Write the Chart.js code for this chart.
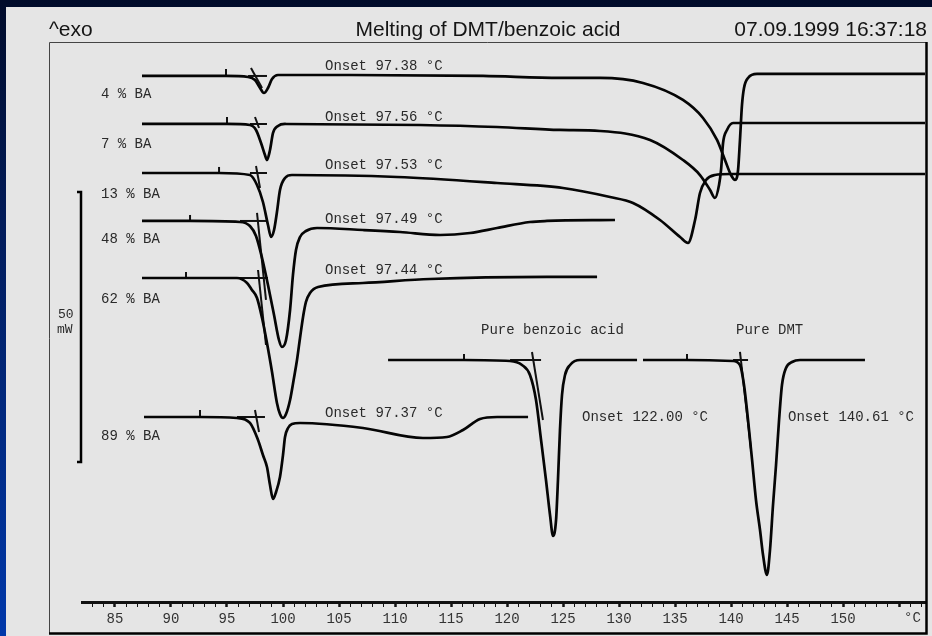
<!DOCTYPE html>
<html>
<head>
<meta charset="utf-8">
<script src="https://cdn.jsdelivr.net/npm/chart.js@4.4.0/dist/chart.umd.min.js"></script>
<style>
  html, body { margin: 0; padding: 0; background: #000c2c; }
  canvas { display: block; }
</style>
</head>
<body>
<canvas id="dsc" width="932" height="636"></canvas>
<script>
// DSC traces, [temperature °C, heat flow mW (offset per trace)]
const ba4 = [
  [87.41, 97.41], [94.91, 97.41], [96.88, 97.22], [97.50, 96.67], [97.95, 95.19], [98.30, 94.26],
  [98.66, 95.19], [99.02, 96.85], [99.55, 97.59], [105.98, 97.59], [117.86, 97.41], [124.73, 97.04],
  [128.30, 97.04], [132.14, 96.11], [135.71, 92.96], [137.50, 89.63], [138.75, 85.56], [139.46, 81.85],
  [140.00, 79.07], [140.36, 78.15], [140.63, 80.00], [140.80, 85.56], [140.98, 92.04], [141.16, 95.19],
  [141.52, 97.04], [142.32, 97.78], [157.32, 97.78]
];
const ba7 = [
  [87.41, 88.52], [95.00, 88.52], [97.05, 88.33], [97.59, 87.41], [98.04, 85.00], [98.39, 82.78],
  [98.57, 81.85], [98.84, 83.70], [99.11, 86.85], [99.55, 88.15], [100.18, 88.52], [112.23, 88.33],
  [119.11, 87.96], [124.73, 87.41], [128.30, 87.22], [132.77, 85.56], [135.71, 81.85], [137.23, 79.07],
  [138.13, 76.30], [138.57, 74.81], [138.93, 77.22], [139.11, 80.00], [139.29, 85.00], [139.64, 87.41],
  [140.18, 88.70], [140.80, 88.70], [157.32, 88.70]
];
const ba13 = [
  [87.41, 79.44], [94.29, 79.44], [97.05, 79.07], [97.68, 77.22], [98.21, 74.07], [98.66, 69.81],
  [98.93, 67.59], [99.20, 68.89], [99.46, 72.22], [99.73, 76.30], [100.18, 78.52], [100.80, 79.07],
  [110.18, 78.70], [119.11, 77.59], [125.00, 76.67], [129.20, 75.00], [131.25, 73.89], [133.66, 70.74],
  [135.45, 67.59], [136.16, 66.48], [136.79, 70.74], [137.23, 75.74], [137.77, 78.15], [138.57, 79.07],
  [139.91, 79.26], [157.32, 79.26]
];
const ba48 = [
  [87.41, 70.56], [91.70, 70.56], [96.16, 70.37], [97.05, 69.63], [97.59, 67.78], [98.13, 63.70],
  [98.66, 58.70], [99.20, 53.15], [99.64, 48.52], [99.91, 47.22], [100.27, 48.52], [100.63, 54.07],
  [100.89, 60.56], [101.16, 65.19], [101.52, 67.59], [102.05, 68.70], [103.04, 69.26], [107.14, 68.89],
  [110.45, 68.52], [114.02, 67.96], [116.70, 68.33], [119.11, 69.26], [122.05, 70.37], [123.57, 70.56],
  [129.64, 70.74]
];
const ba62 = [
  [87.41, 60.00], [91.34, 60.00], [95.89, 60.00], [96.79, 59.07], [97.23, 57.78], [97.68, 56.30],
  [98.13, 52.59], [98.57, 47.96], [99.02, 42.59], [99.46, 36.85], [99.73, 34.81], [100.00, 34.07],
  [100.27, 34.81], [100.63, 37.41], [100.98, 41.48], [101.25, 44.81], [101.52, 48.89], [101.79, 52.78],
  [102.05, 55.56], [102.41, 57.22], [103.13, 58.33], [107.14, 59.07], [113.13, 59.81], [123.57, 60.19],
  [128.04, 60.19]
];
const ba89 = [
  [87.59, 34.26], [92.59, 34.26], [95.89, 34.07], [97.05, 33.15], [97.77, 30.00], [98.21, 27.22],
  [98.57, 25.00], [98.84, 21.67], [99.11, 19.07], [99.38, 20.37], [99.73, 23.15], [100.00, 27.22],
  [100.18, 30.56], [100.45, 32.22], [100.80, 32.96], [101.52, 33.15], [107.14, 32.22], [112.50, 30.37],
  [114.64, 30.56], [116.07, 31.85], [117.59, 33.89], [119.11, 34.26], [121.88, 34.26]
];
const pureBenzoic = [
  [109.38, 44.81], [116.16, 44.81], [120.27, 44.63], [121.34, 43.89], [122.05, 42.04], [122.59, 37.41],
  [123.04, 30.00], [123.48, 22.59], [123.84, 16.11], [124.11, 12.22], [124.38, 15.19], [124.55, 22.59],
  [124.73, 31.85], [124.91, 38.33], [125.18, 42.04], [125.63, 43.89], [126.52, 44.81], [131.61, 44.81]
];
const pureDMT = [
  [132.14, 44.81], [136.07, 44.81], [140.18, 44.63], [140.80, 43.89], [141.16, 40.19], [141.52, 33.70],
  [141.88, 26.30], [142.23, 18.89], [142.59, 13.33], [142.86, 8.70], [143.21, 5.00], [143.48, 9.63],
  [143.75, 17.96], [144.02, 25.37], [144.29, 33.70], [144.55, 40.19], [144.91, 43.33], [145.45, 44.44],
  [146.16, 44.81], [151.96, 44.81]
];

// onset constructions: integration limit marks [T, mW from, mW to]
const limitMarks = [
  [94.91, 97.41, 98.70], [95.00, 88.52, 89.81], [94.29, 79.44, 80.56], [91.70, 70.56, 71.67],
  [91.34, 60.00, 61.11], [92.59, 34.26, 35.56], [116.16, 44.81, 45.93], [136.07, 44.81, 45.93]
];
// extended baselines [T from, T to, mW]
const baselineExt = [
  [96.88, 98.57, 97.41], [97.05, 98.57, 88.52], [97.05, 98.57, 79.44], [96.16, 98.57, 70.56],
  [95.89, 98.66, 60.00], [95.89, 98.39, 34.26], [120.27, 123.04, 44.81], [140.18, 141.52, 44.81]
];
// inflection tangents [T1, mW1, T2, mW2]
const tangents = [
  [97.14, 98.89, 98.13, 95.19], [97.50, 89.81, 97.86, 87.78], [97.59, 80.74, 97.95, 76.67],
  [97.68, 72.04, 98.48, 55.93], [97.77, 61.48, 98.48, 47.59], [97.50, 35.56, 97.86, 31.48],
  [122.23, 46.30, 123.21, 33.70], [140.80, 46.30, 141.79, 28.15]
];

const sampleNames = ['4 % BA', '7 % BA', '13 % BA', '48 % BA', '62 % BA', '89 % BA'];
const onsets = [97.38, 97.56, 97.53, 97.49, 97.44, 97.37];
const pureOnsets = [122.00, 140.61];
const tickLabels = [85, 90, 95, 100, 105, 110, 115, 120, 125, 130, 135, 140, 145, 150];
const scaleBar = { top: 75.93, mW: 50 };

const toXY = pts => pts.map(p => ({ x: p[0], y: p[1] }));

const datasets = [];
[ba4, ba7, ba13, ba48, ba62, ba89, pureBenzoic, pureDMT].forEach(tr => {
  datasets.push({
    data: toXY(tr),
    borderColor: '#050505',
    borderWidth: 2.7,
    pointRadius: 0,
    cubicInterpolationMode: 'monotone'
  });
});
limitMarks.forEach(m => {
  datasets.push({ data: [{ x: m[0], y: m[1] }, { x: m[0], y: m[2] }], borderColor: '#111', borderWidth: 2, pointRadius: 0 });
});
baselineExt.forEach(b => {
  datasets.push({ data: [{ x: b[0], y: b[2] }, { x: b[1], y: b[2] }], borderColor: '#111', borderWidth: 2, pointRadius: 0 });
});
tangents.forEach(t => {
  datasets.push({ data: [{ x: t[0], y: t[1] }, { x: t[2], y: t[3] }], borderColor: '#111', borderWidth: 2, pointRadius: 0 });
});

const mono = '14px "Liberation Mono", "DejaVu Sans Mono", monospace';
const sans = '21px "Liberation Sans", Arial, sans-serif';

const decor = {
  id: 'decor',
  beforeDraw(chart) {
    const c = chart.ctx;
    c.save();
    const g = c.createLinearGradient(0, 0, 0, chart.height);
    g.addColorStop(0, '#000b2a');
    g.addColorStop(0.35, '#021c5a');
    g.addColorStop(1, '#0038aa');
    c.fillStyle = g;
    c.fillRect(0, 0, chart.width, chart.height);
    c.fillStyle = '#e5e5e5';
    c.fillRect(6, 7, chart.width - 6, chart.height - 7);
    c.restore();
  },
  afterDraw(chart) {
    const c = chart.ctx;
    const y = chart.scales.y;
    c.save();

    // frame
    c.strokeStyle = '#444';
    c.lineWidth = 1;
    c.beginPath();
    c.moveTo(49.5, 634); c.lineTo(49.5, 42.5); c.lineTo(926, 42.5);
    c.stroke();
    c.strokeStyle = '#000';
    c.lineWidth = 2.5;
    c.beginPath();
    c.moveTo(926.5, 42); c.lineTo(926.5, 633.5); c.lineTo(49, 633.5);
    c.stroke();

    // header
    c.fillStyle = '#151515';
    c.font = sans;
    c.textBaseline = 'alphabetic';
    c.textAlign = 'left';
    c.fillText('^exo', 49, 36);
    c.textAlign = 'center';
    c.fillText('Melting of DMT/benzoic acid', 488, 36);
    c.textAlign = 'right';
    c.fillText('07.09.1999 16:37:18', 927, 36);

    // 50 mW scale bar
    const yT = y.getPixelForValue(scaleBar.top);
    const yB = y.getPixelForValue(scaleBar.top - scaleBar.mW);
    c.strokeStyle = '#000';
    c.lineWidth = 2.5;
    c.beginPath();
    c.moveTo(77, yT); c.lineTo(81, yT); c.lineTo(81, yB); c.lineTo(77, yB);
    c.stroke();

    c.fillStyle = '#2a2a2a';
    c.textAlign = 'left';
    c.font = '13px "Liberation Mono", monospace';
    c.fillText(String(scaleBar.mW), 58, 318);
    c.fillText('mW', 57, 333);

    // sample names and onset labels
    c.font = mono;
    const nameBase = [98, 148, 198, 243, 303, 440];
    const onsetBase = [70, 121, 169, 223, 274, 417];
    sampleNames.forEach((n, i) => c.fillText(n, 101, nameBase[i]));
    onsets.forEach((o, i) => c.fillText('Onset ' + o.toFixed(2) + ' °C', 325, onsetBase[i]));
    c.fillText('Pure benzoic acid', 481, 334);
    c.fillText('Onset ' + pureOnsets[0].toFixed(2) + ' °C', 582, 421);
    c.fillText('Pure DMT', 736, 334);
    c.fillText('Onset ' + pureOnsets[1].toFixed(2) + ' °C', 788, 421);

    // axis unit
    c.fillStyle = '#333';
    c.fillText('°C', 904, 622);
    c.restore();
  }
};

new Chart(document.getElementById('dsc'), {
  type: 'line',
  data: { datasets: datasets },
  options: {
    responsive: false,
    animation: false,
    layout: { padding: { left: 82, right: 7, top: 42, bottom: 0 } },
    plugins: { legend: { display: false }, tooltip: { enabled: false } },
    elements: { line: { fill: false } },
    scales: {
      x: {
        type: 'linear',
        min: 82.054,
        max: 157.32,
        afterFit: s => { s.height = 34; },
        border: { display: true, color: '#111', width: 3 },
        grid: {
          drawOnChartArea: false,
          drawTicks: true,
          tickLength: 5,
          tickColor: '#111',
          tickWidth: ctx => (ctx.tick && ctx.tick.value % 5 === 0 ? 2.5 : 1)
        },
        ticks: {
          stepSize: 1,
          includeBounds: false,
          autoSkip: false,
          maxRotation: 0,
          minRotation: 0,
          padding: 4,
          color: '#333',
          font: { family: '"Liberation Mono", monospace', size: 14 },
          callback: v => (tickLabels.includes(v) ? String(v) : '')
        }
      },
      y: {
        type: 'linear',
        display: false,
        min: 0,
        max: 103.7
      }
    }
  },
  plugins: [decor]
});
</script>
</body>
</html>
